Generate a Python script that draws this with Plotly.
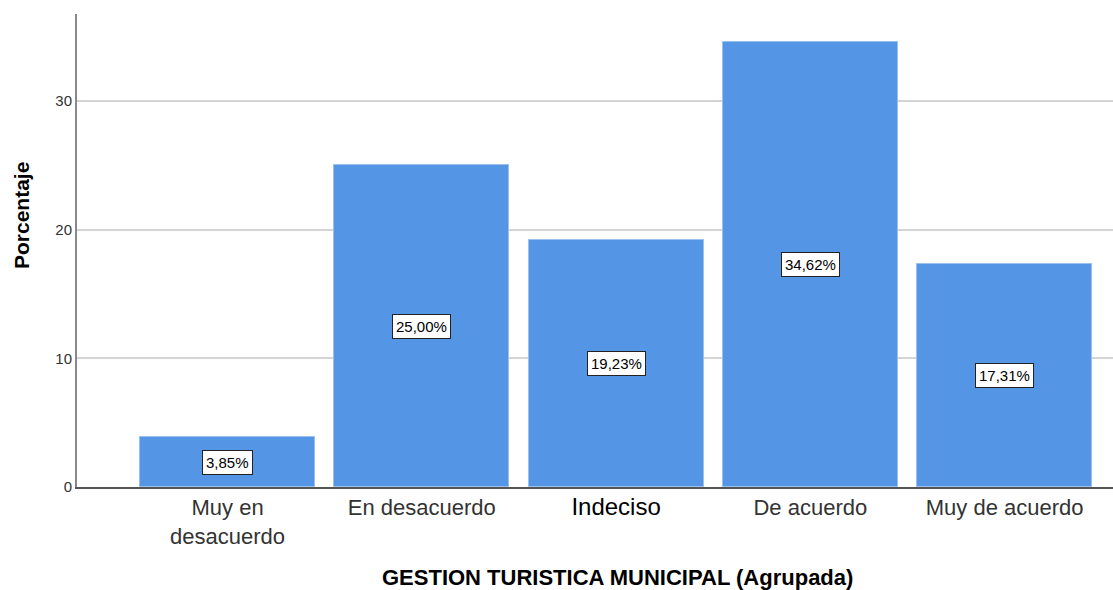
import plotly.graph_objects as go

categories = ["Muy en desacuerdo", "En desacuerdo", "Indeciso", "De acuerdo", "Muy de acuerdo"]
tick_labels = ["Muy en<br>desacuerdo", "En desacuerdo",
               "<span style='font-size:24px;color:#000000'>Indeciso</span>",
               "De acuerdo", "Muy de acuerdo"]
percentages = [3.85, 25.00, 19.23, 34.62, 17.31]
value_labels = ["3,85%", "25,00%", "19,23%", "34,62%", "17,31%"]
y_ticks = [0, 10, 20, 30]

x_pos = list(range(len(categories)))

fig = go.Figure()
fig.add_trace(go.Bar(
    x=x_pos, y=percentages, width=0.9,
    marker=dict(color="#5595e5", line=dict(color="#9cc0ee", width=1)),
    hoverinfo="skip",
))

for xi, v, lab in zip(x_pos, percentages, value_labels):
    fig.add_annotation(
        x=xi, y=v / 2, xref="x", yref="y", text=lab, showarrow=False,
        font=dict(family="Arial, Liberation Sans", size=15, color="#000000"),
        bgcolor="#ffffff", bordercolor="#222222", borderwidth=1, borderpad=3,
    )

fig.add_annotation(
    x=617, y=577, text="<b>GESTION TURISTICA MUNICIPAL (Agrupada)</b>",
    showarrow=False, font=dict(family="Arial, Liberation Sans", size=22, color="#000000"),
    xanchor="center", yanchor="middle",
)
fig.add_annotation(
    x=22, y=216, text="<b>Porcentaje</b>", textangle=-90, showarrow=False,
    font=dict(family="Arial, Liberation Sans", size=21, color="#000000"),
    xanchor="center", yanchor="middle",
)

# convert pixel-based annotations to paper coordinates
W, H = 1113, 590
L, R, T, B = 77, 0, 14, 103
pw, ph = W - L - R, H - T - B
for ann in fig.layout.annotations[-2:]:
    px, py = ann.x, ann.y
    ann.x = (px - L) / pw
    ann.y = 1 - (py - T) / ph
    ann.xref = "paper"
    ann.yref = "paper"

fig.update_layout(
    width=W, height=H,
    margin=dict(l=L, r=R, t=T, b=B),
    plot_bgcolor="#ffffff", paper_bgcolor="#ffffff",
    showlegend=False,
    font=dict(family="Arial, Liberation Sans", color="#333333"),
    bargap=0,
)
fig.update_xaxes(
    range=[-0.775, 4.558], tickvals=x_pos, ticktext=tick_labels,
    tickfont=dict(size=22, color="#333333"),
    showgrid=False, showline=True, linecolor="#555555", linewidth=1.5,
    ticks="", zeroline=False, fixedrange=True,
)
fig.update_yaxes(
    range=[0, 36.76], tickvals=y_ticks,
    tickfont=dict(size=15, color="#333333"),
    showgrid=True, gridcolor="#d4d4d4", gridwidth=1.5,
    showline=True, linecolor="#888888", linewidth=2,
    ticks="", zeroline=False, fixedrange=True,
)

fig.write_html("out.html", config={"displayModeBar": False},
               post_script="document.body.style.margin='0';document.body.style.overflow='hidden';")
